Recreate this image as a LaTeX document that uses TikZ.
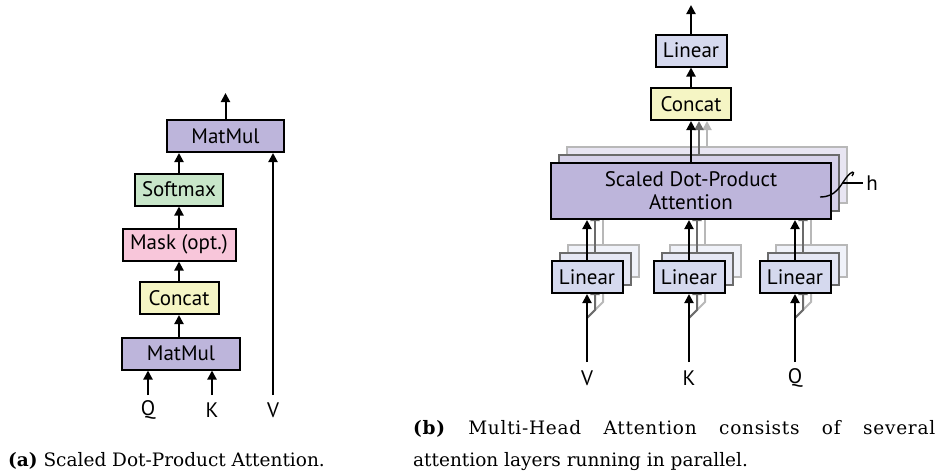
\documentclass[tikz,border=0pt]{standalone}
\usepackage{fontspec}
\setmainfont{DejaVu Serif}
\newfontfamily\diagfont{PT Sans}
\usetikzlibrary{arrows.meta,positioning}

\definecolor{matmulfill}{HTML}{BDB5DB}
\definecolor{softfill}{HTML}{C8E6C9}
\definecolor{maskfill}{HTML}{F8C6DA}
\definecolor{concatfill}{HTML}{F5F5C4}
\definecolor{linfill}{HTML}{D5D9EE}

\begin{document}
\begin{tikzpicture}[x=1pt,y=-1pt,
  >={Triangle[length=9pt,width=9pt]},
  font=\diagfont\fontsize{21}{23}\selectfont,
  box/.style={draw,line width=2pt,inner sep=0pt,minimum height=32pt},
  flow/.style={->,line width=2pt},
  capfont/.style={font=\rmfamily\fontsize{18.5}{22}\selectfont,anchor=base west,inner sep=0pt}]

\useasboundingbox (0,0) rectangle (939,471);

% (a) scaled dot-product attention
\node[box,fill=matmulfill,minimum width=118pt] (mmlow) at (181,353.5) {MatMul};
\node[box,fill=concatfill,minimum width=79pt] (cat) at (179,298) {Concat};
\node[box,fill=maskfill,minimum width=113pt] (mask) at (179,244.5) {Mask (opt.)};
\node[box,fill=softfill,minimum width=88pt] (soft) at (179,189.5) {Softmax};
\node[box,fill=matmulfill,minimum width=117pt] (mmtop) at (225.5,136) {MatMul};
\coordinate (outa) at (225.5,93);

\node (qa) at (148,410) {Q};
\node (ka) at (212,410) {K};
\node (va) at (273,410) {V};

\draw[flow] ([yshift=15pt]qa.center) -- (qa |- mmlow.south);
\draw[flow] ([yshift=15pt]ka.center) -- (ka |- mmlow.south);
\draw[flow] ([yshift=15pt]va.center) -- (va |- mmtop.south);
\draw[flow] (mmlow.north -| cat) -- (cat);
\draw[flow] (cat) -- (mask);
\draw[flow] (mask) -- (soft);
\draw[flow] (soft) -- (soft |- mmtop.south);
\draw[flow] (mmtop) -- (outa);

% (b) multi-head attention
\node[box,fill=concatfill,minimum width=80pt] (concat) at (691,104) {Concat};
\node[box,fill=linfill,minimum width=71pt] (linout) at (691,50.5) {Linear};
\coordinate (outb) at (691,5);
\draw[flow] (concat) -- (linout);
\draw[flow] (linout) -- (outb);

\foreach \n/\x/\t in {v/587/V,k/689/K,q/795/Q}{
  \node (l\n) at (\x,378) {\t};
  \coordinate (j\n) at (\x,318);
}

% heads behind the front one
\foreach \k/\edge/\tint in {3/black!28/35,2/black!58/62}{
  \pgfmathsetmacro\s{8*(\k-1)}
  \node[box,draw=\edge,fill=matmulfill!\tint!white,minimum width=280pt,minimum height=56pt]
    (sdpa\k) at (691+\s,191-\s) {};
  \draw[flow,draw=\edge] (sdpa\k.north) -- (sdpa\k.north |- concat.south);
  \foreach \n/\x in {v/587,k/689,q/795}{
    \node[box,draw=\edge,fill=linfill!\tint!white,minimum width=71pt]
      (lin\n\k) at (\x+\s,277-\s) {};
    \draw[flow,draw=\edge] (lin\n\k.north) -- (lin\n\k.north |- sdpa\k.south);
    \draw[flow,draw=\edge] (j\n) -- ++(\s,-\s) -- (lin\n\k.south);
  }
}

% front head
\node[box,fill=matmulfill,minimum width=280pt,minimum height=56pt,align=center]
  (sdpa) at (691,191) {Scaled Dot-Product\\Attention};
\draw[flow] (sdpa) -- (concat);
\foreach \n/\x in {v/587,k/689,q/795}{
  \node[box,fill=linfill,minimum width=71pt] (lin\n) at (\x,277) {Linear};
  \draw[flow] ([yshift=16pt]l\n.center) -- (lin\n.south);
  \draw[flow] (lin\n.north) -- (lin\n.north |- sdpa.south);
}

\node (hlbl) at (872,183) {h};
\draw[line width=1.4pt] (820,197) .. controls (836,197) and (840,186) .. (846,178)
  .. controls (851,171) and (856,170) .. (852,176);
\draw[line width=1.4pt] (843,183) -- (hlbl.west);

% captions
\node[capfont] (capa) at (8,466) {\textbf{(a)} Scaled Dot-Product Attention.};
\node[capfont] (capb1) at (413,434)
  {\makebox[522pt][s]{\addfontfeature{LetterSpace=4}\textbf{(b)} Multi-Head Attention consists of several}};
\node[capfont] (capb2) at (413,466) {attention layers running in parallel.};

\end{tikzpicture}
\end{document}
